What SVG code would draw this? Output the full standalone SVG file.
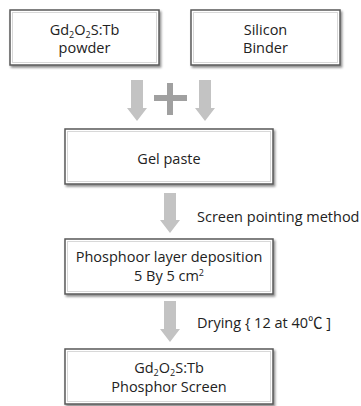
<svg xmlns="http://www.w3.org/2000/svg" width="361" height="406" viewBox="0 0 361 406">
<defs>
<filter id="sh" x="-10%" y="-10%" width="130%" height="140%">
<feDropShadow dx="1.5" dy="2" stdDeviation="1" flood-color="#000" flood-opacity="0.45"/>
</filter>
</defs>
<style>
.box{fill:#fff;stroke:#5a5a5a;stroke-width:1.5;filter:url(#sh)}
.inner{fill:none;stroke:#d8d8d8;stroke-width:1}
text{font-family:"Open Sans","Noto Sans CJK KR",sans-serif;font-size:14.5px;fill:#222;text-anchor:middle}
.lbl{text-anchor:start}
.sub{font-size:9px;baseline-shift:-3px}
.sup{font-size:9px;baseline-shift:5px}
.arr{fill:#c3c3c3}
.plus{fill:#a0a0a0}
</style>
<rect width="361" height="406" fill="#fff"/>
<g id="n1">
<rect class="box" x="10" y="10" width="149" height="55"/>
<rect class="inner" x="12.5" y="12.5" width="144" height="50"/>
<text x="84.5" y="35">Gd<tspan class="sub">2</tspan>O<tspan class="sub">2</tspan>S:Tb</text>
<text x="84.5" y="53">powder</text>
</g>
<g id="n2">
<rect class="box" x="191" y="10" width="149" height="55"/>
<rect class="inner" x="193.5" y="12.5" width="144" height="50"/>
<text x="265.5" y="35">Silicon</text>
<text x="265.5" y="53">Binder</text>
</g>
<g id="n3">
<rect class="box" x="65" y="129" width="208" height="55"/>
<rect class="inner" x="67.5" y="131.5" width="203" height="50"/>
<text x="169" y="164">Gel paste</text>
</g>
<g id="n4">
<rect class="box" x="65" y="239" width="208" height="55"/>
<rect class="inner" x="67.5" y="241.5" width="203" height="50"/>
<text x="169" y="262">Phosphoor layer deposition</text>
<text x="169" y="281">5 By 5 cm<tspan class="sup">2</tspan></text>
</g>
<g id="n5">
<rect class="box" x="65" y="349" width="208" height="55"/>
<rect class="inner" x="67.5" y="351.5" width="203" height="50"/>
<text x="169" y="373">Gd<tspan class="sub">2</tspan>O<tspan class="sub">2</tspan>S:Tb</text>
<text x="169" y="392">Phosphor Screen</text>
</g>
<g id="connectors">
<polygon class="arr" points="131,80 143,80 143,108 147,108 137,121 127,108 131,108"/>
<polygon class="arr" points="199,80 211,80 211,108 215,108 205,121 195,108 199,108"/>
<polygon class="plus" points="167,83 173,83 173,95 187,95 187,101 173,101 173,115 167,115 167,101 154,101 154,95 167,95"/>
<polygon class="arr" points="164,193 176,193 176,220 180,220 170,233 160,220 164,220"/>
<polygon class="arr" points="164,301 176,301 176,329 180,329 170,342 160,329 164,329"/>
<text class="lbl" x="197" y="222">Screen pointing method</text>
<text class="lbl" x="197" y="328">Drying { 12 at 40℃ ]</text>
</g>
</svg>
